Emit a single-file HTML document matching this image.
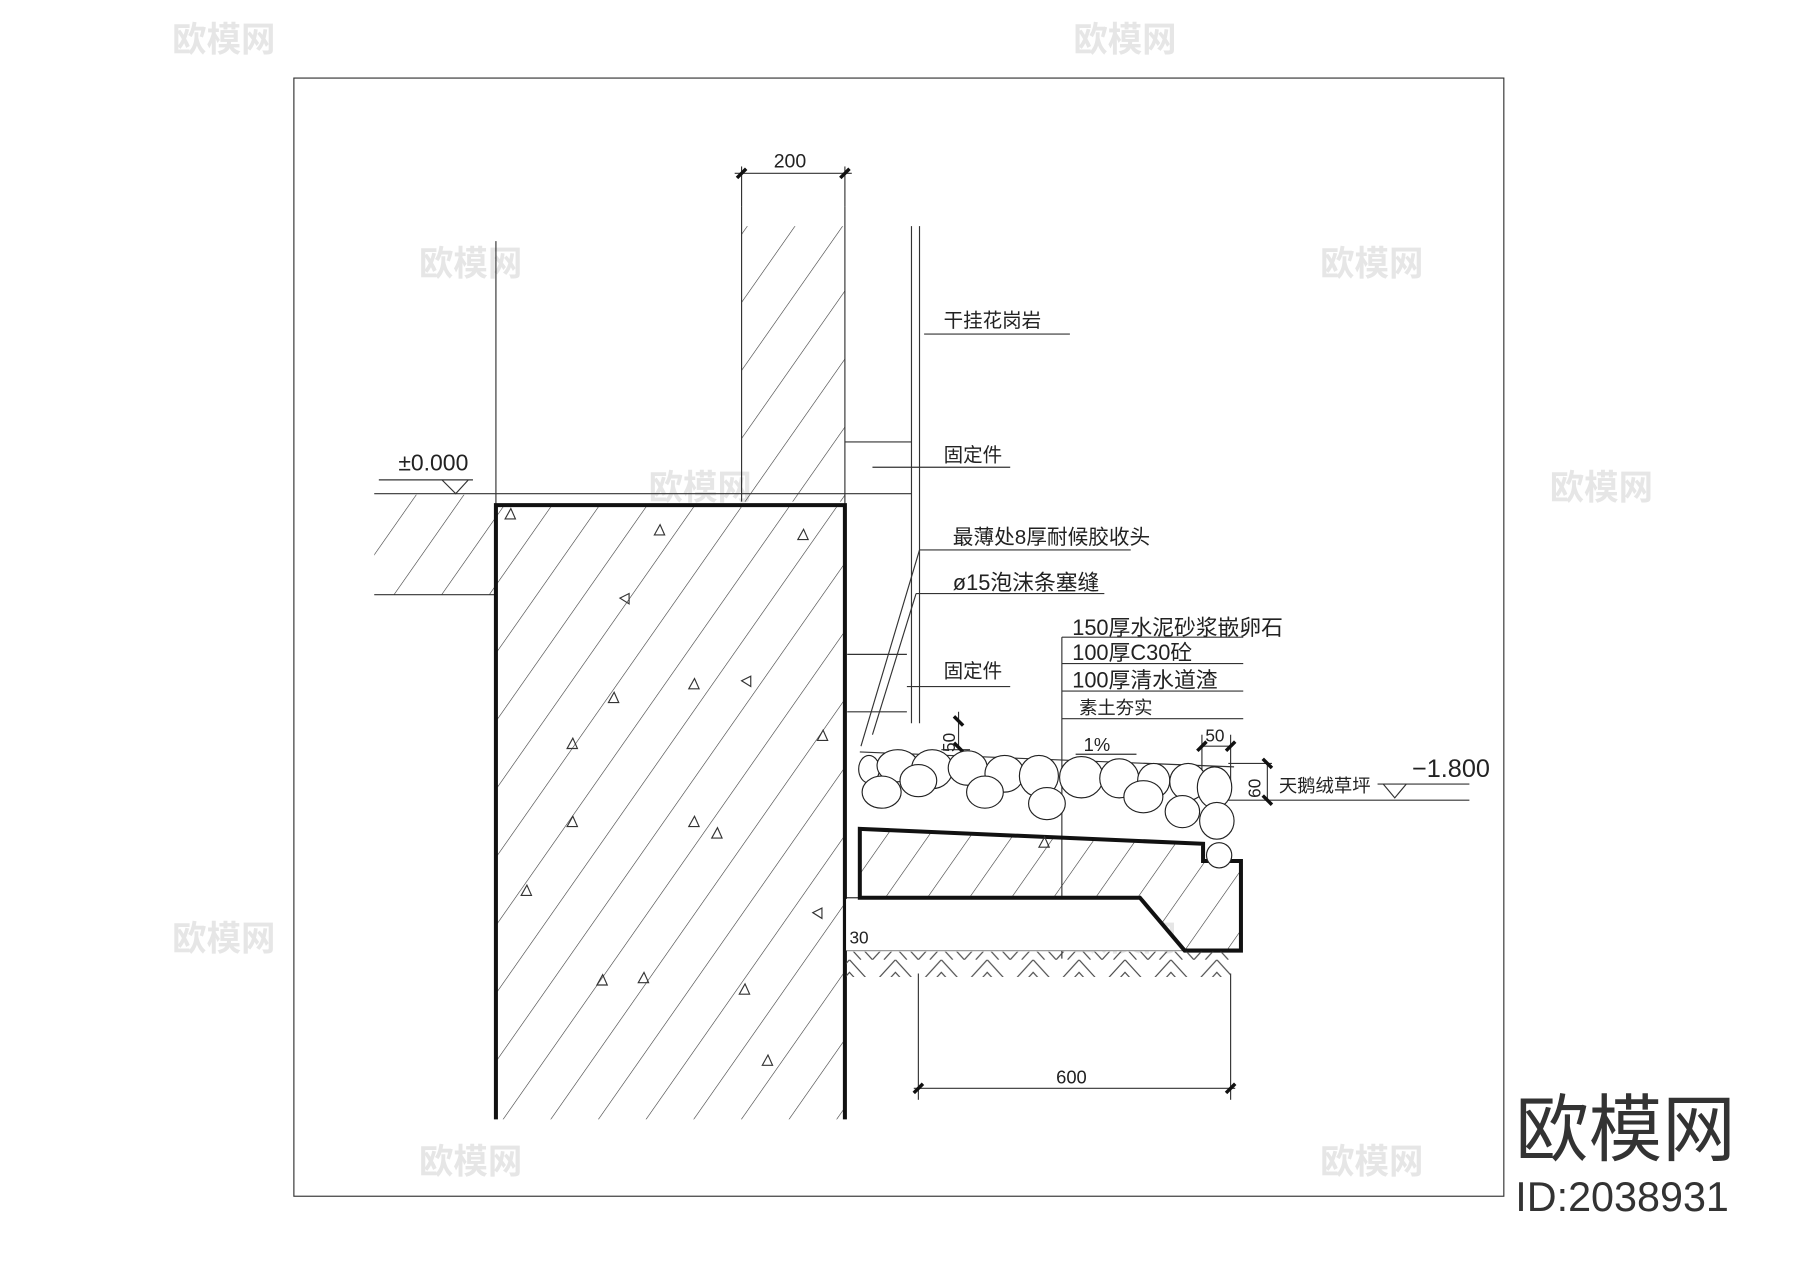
<!DOCTYPE html>
<html><head><meta charset="utf-8"><style>
html,body{margin:0;padding:0;background:#fff;width:1800px;height:1272px;overflow:hidden}
svg{display:block}
text{font-family:"Liberation Sans","Noto Sans CJK SC",sans-serif;fill:#222}
</style></head><body>
<svg width="1800" height="1272" viewBox="0 0 1568 1108" preserveAspectRatio="none" xmlns="http://www.w3.org/2000/svg">
<defs>
<pattern id="h" width="34" height="34" patternUnits="userSpaceOnUse" patternTransform="rotate(35)">
<line x1="0" y1="0" x2="0" y2="34" stroke="#333" stroke-width="1"/></pattern>
<pattern id="h2" width="30" height="30" patternUnits="userSpaceOnUse" patternTransform="rotate(35)">
<line x1="0" y1="0" x2="0" y2="30" stroke="#333" stroke-width="1"/></pattern>
<pattern id="zz" width="40" height="22" patternUnits="userSpaceOnUse">
<path d="M0,22 L20,0 L40,22 M10,22 L20,11 L30,22" fill="none" stroke="#444" stroke-width="1"/></pattern>
</defs>
<rect width="1568" height="1108" fill="#fff"/>
<g font-size="30" font-weight="bold">
<text x="150" y="45" style="fill:#e6e6e6">欧模网</text><text x="935" y="45" style="fill:#e6e6e6">欧模网</text>
<text x="365" y="240" style="fill:#e6e6e6">欧模网</text><text x="1150" y="240" style="fill:#e6e6e6">欧模网</text>
<text x="565" y="435" style="fill:#e6e6e6">欧模网</text><text x="1350" y="435" style="fill:#e6e6e6">欧模网</text>
<text x="150" y="828" style="fill:#e6e6e6">欧模网</text><text x="935" y="828" style="fill:#e6e6e6">欧模网</text>
<text x="365" y="1022" style="fill:#e6e6e6">欧模网</text><text x="1150" y="1022" style="fill:#e6e6e6">欧模网</text>
</g>
<rect x="256" y="68" width="1054" height="974" fill="none" stroke="#333" stroke-width="1"/>
<rect x="646" y="197" width="90" height="240" fill="url(#h)"/>
<g stroke="#333" stroke-width="1" fill="none">
<line x1="646" y1="180" x2="646" y2="437"/><line x1="736" y1="180" x2="736" y2="440"/>
<line x1="432" y1="210" x2="432" y2="440"/>
<line x1="794" y1="197" x2="794" y2="630"/><line x1="801" y1="197" x2="801" y2="630"/>
<line x1="640" y1="151" x2="742" y2="151"/>
<line x1="646" y1="145" x2="646" y2="180"/><line x1="736" y1="145" x2="736" y2="180"/>
<line x1="326" y1="430" x2="794" y2="430"/>
<line x1="326" y1="518" x2="432" y2="518"/>
<line x1="736" y1="385" x2="794" y2="385"/>
<line x1="805" y1="291" x2="932" y2="291"/>
<line x1="760" y1="407" x2="880" y2="407"/>
<line x1="801" y1="479" x2="985" y2="479"/>
<line x1="798" y1="517" x2="962" y2="517"/>
<line x1="790" y1="598" x2="880" y2="598"/>
<line x1="801" y1="479" x2="750" y2="650"/><line x1="798" y1="517" x2="760" y2="640"/>
<line x1="738" y1="570" x2="790" y2="570"/>
<line x1="738" y1="620" x2="790" y2="620"/>
<line x1="330" y1="418" x2="412" y2="418"/>
<path d="M385,418 L397,430 L408,418"/>
<line x1="925" y1="555" x2="1083" y2="555"/><line x1="925" y1="578" x2="1083" y2="578"/>
<line x1="925" y1="602" x2="1083" y2="602"/><line x1="925" y1="626" x2="1083" y2="626"/>
<line x1="925" y1="555" x2="925" y2="835"/>
<line x1="749" y1="655" x2="1075" y2="668"/>
<line x1="1070" y1="697" x2="1280" y2="697"/>
<line x1="1200" y1="683" x2="1280" y2="683"/>
<path d="M1205,683 L1215,695 L1225,683"/>
<line x1="1104" y1="664" x2="1104" y2="697"/><line x1="1070" y1="665" x2="1108" y2="665"/>
<line x1="1047" y1="650" x2="1072" y2="650"/>
<line x1="1047" y1="640" x2="1047" y2="690"/><line x1="1072" y1="640" x2="1072" y2="690"/>
<line x1="835" y1="620" x2="835" y2="652"/><line x1="820" y1="653" x2="845" y2="653"/>
<line x1="937" y1="657" x2="990" y2="657"/>
<line x1="736" y1="782" x2="750" y2="782"/>
<line x1="736" y1="828" x2="1034" y2="828"/>
<line x1="800" y1="848" x2="800" y2="958"/><line x1="1072" y1="848" x2="1072" y2="958"/>
<line x1="796" y1="948" x2="1076" y2="948"/>
</g>
<g stroke="#111" stroke-width="3">
<line x1="642" y1="155" x2="650" y2="147"/><line x1="732" y1="155" x2="740" y2="147"/>
<line x1="796" y1="952" x2="804" y2="944"/><line x1="1068" y1="952" x2="1076" y2="944"/>
<line x1="1100" y1="661" x2="1108" y2="669"/><line x1="1100" y1="693" x2="1108" y2="701"/>
<line x1="1043" y1="654" x2="1051" y2="646"/><line x1="1068" y1="654" x2="1076" y2="646"/>
<line x1="831" y1="624" x2="839" y2="632"/><line x1="831" y1="647" x2="839" y2="655"/>
<line x1="738" y1="815" x2="746" y2="807"/>
</g>
<rect x="326" y="431" width="106" height="87" fill="url(#h)"/>
<rect x="432" y="440" width="304" height="535" fill="url(#h)"/>
<path d="M432,975 L432,440 L736,440 L736,975" fill="none" stroke="#111" stroke-width="3.5"/>
<path d="M737,783 L993,783 L1032,828 L737,828Z" fill="#fff"/>
<path d="M749,722 L1048,735 L1048,750 L1081,750 L1081,828 L1032,828 L993,782 L749,782Z" fill="url(#h2)" stroke="#111" stroke-width="3.5"/>
<rect x="737" y="829" width="335" height="22" fill="url(#zz)"/>
<g fill="#fff" stroke="#222" stroke-width="1">
<ellipse cx="757" cy="670" rx="9" ry="12"/><ellipse cx="782" cy="667" rx="18" ry="14"/><ellipse cx="812" cy="670" rx="18" ry="17"/>
<ellipse cx="843" cy="669" rx="17" ry="15"/><ellipse cx="875" cy="674" rx="17" ry="16"/><ellipse cx="905" cy="676" rx="17" ry="18"/>
<ellipse cx="942" cy="677" rx="19" ry="18"/><ellipse cx="975" cy="678" rx="17" ry="17"/><ellipse cx="1005" cy="680" rx="14" ry="15"/>
<ellipse cx="1035" cy="681" rx="16" ry="16"/><ellipse cx="1058" cy="686" rx="15" ry="18"/>
<ellipse cx="768" cy="690" rx="17" ry="14"/><ellipse cx="800" cy="680" rx="16" ry="14"/><ellipse cx="858" cy="690" rx="16" ry="14"/>
<ellipse cx="912" cy="700" rx="16" ry="14"/><ellipse cx="996" cy="694" rx="17" ry="14"/><ellipse cx="1030" cy="707" rx="15" ry="14"/>
<ellipse cx="1060" cy="715" rx="15" ry="16"/><ellipse cx="1062" cy="745" rx="11" ry="11"/>
</g>
<g fill="none" stroke="#333" stroke-width="1">
<path d="M570,466 l5,-9 l4,9z"/><path d="M695,470 l5,-9 l4,9z"/><path d="M540,521 l8,-4 l0,9z"/><path d="M530,612 l5,-9 l4,9z"/>
<path d="M600,600 l5,-9 l4,9z"/><path d="M646,593 l8,-4 l0,9z"/><path d="M494,652 l5,-9 l4,9z"/><path d="M494,720 l5,-9 l4,9z"/>
<path d="M600,720 l5,-9 l4,9z"/><path d="M620,730 l5,-9 l4,9z"/><path d="M454,780 l5,-9 l4,9z"/><path d="M520,858 l5,-9 l4,9z"/>
<path d="M556,856 l5,-9 l4,9z"/><path d="M644,866 l5,-9 l4,9z"/><path d="M664,928 l5,-9 l4,9z"/><path d="M708,795 l8,-4 l0,9z"/>
<path d="M905,738 l5,-9 l4,9z"/><path d="M440,452 l5,-9 l4,9z"/><path d="M712,645 l5,-9 l4,9z"/>
</g>
<g font-size="19">
<text x="674" y="146" font-size="17">200</text>
<text x="347" y="410" font-size="20">±0.000</text>
<text x="822" y="285" font-size="17">干挂花岗岩</text>
<text x="822" y="402" font-size="17">固定件</text>
<text x="830" y="474" font-size="18">最薄处8厚耐候胶收头</text>
<text x="830" y="514" font-size="19">ø15泡沫条塞缝</text>
<text x="822" y="590" font-size="17">固定件</text>
<text x="934" y="553" font-size="19">150厚水泥砂浆嵌卵石</text>
<text x="934" y="575" font-size="19">100厚C30砼</text>
<text x="934" y="599" font-size="19">100厚清水道渣</text>
<text x="940" y="622" font-size="16">素土夯实</text>
<text x="944" y="654" font-size="16">1%</text>
<text x="1050" y="646" font-size="15">50</text>
<text x="1114" y="690" font-size="16">天鹅绒草坪</text>
<text x="1230" y="677" font-size="22">−1.800</text>
<text x="920" y="944" font-size="16">600</text>
<text x="740" y="822" font-size="15">30</text>
<text x="0" y="0" font-size="15" transform="translate(832,655) rotate(-90)">50</text>
<text x="0" y="0" font-size="15" transform="translate(1098,695) rotate(-90)">60</text>
</g>
<text x="1320" y="1006" font-size="64" style="fill:#333">欧模网</text>
<text x="1320" y="1055" font-size="36" style="fill:#333">ID:2038931</text>
</svg>
</body></html>
